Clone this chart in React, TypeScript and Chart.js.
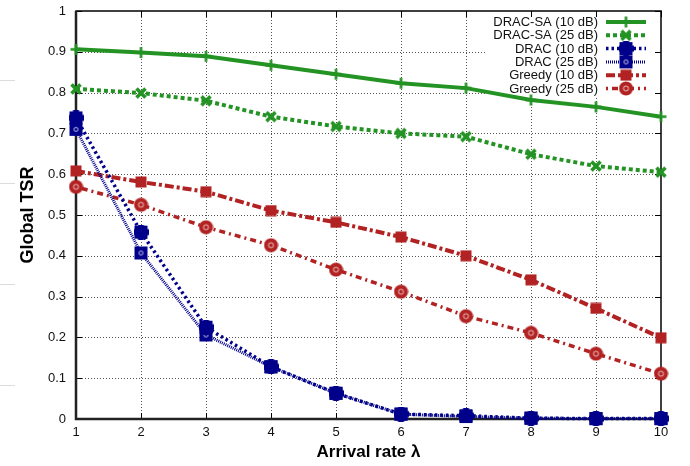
import React, { useEffect, useRef } from "react";
import { Chart, registerables } from "chart.js";

Chart.register(...registerables);

const categories = [1, 2, 3, 4, 5, 6, 7, 8, 9, 10];
const dracSa10 = [0.906, 0.898, 0.889, 0.867, 0.845, 0.823, 0.811, 0.782, 0.765, 0.741];
const dracSa25 = [0.809, 0.799, 0.78, 0.741, 0.717, 0.7, 0.692, 0.649, 0.62, 0.605];
const drac10 = [0.738, 0.458, 0.225, 0.128, 0.063, 0.012, 0.008, 0.002, 0.001, 0.001];
const drac25 = [0.71, 0.407, 0.206, 0.128, 0.063, 0.012, 0.006, 0.002, 0.001, 0.001];
const greedy10 = [0.608, 0.581, 0.557, 0.511, 0.482, 0.446, 0.4, 0.341, 0.271, 0.199];
const greedy25 = [0.569, 0.525, 0.47, 0.426, 0.366, 0.312, 0.252, 0.211, 0.16, 0.111];
const seriesLabels = [
  "DRAC-SA (10 dB)",
  "DRAC-SA (25 dB)",
  "DRAC (10 dB)",
  "DRAC (25 dB)",
  "Greedy (10 dB)",
  "Greedy (25 dB)",
];
const yTicks = [0, 0.1, 0.2, 0.3, 0.4, 0.5, 0.6, 0.7, 0.8, 0.9, 1];

const GREEN = "#239323";
const NAVY = "#00008b";
const RED = "#b22222";
const FONT = "'Liberation Sans', Arial, Helvetica, sans-serif";

function mk(size: number, draw: (c: CanvasRenderingContext2D, s: number) => void) {
  const cv = document.createElement("canvas");
  cv.width = size;
  cv.height = size;
  const c = cv.getContext("2d")!;
  draw(c, size);
  return cv;
}

export default function App() {
  const ref = useRef<HTMLCanvasElement | null>(null);

  useEffect(() => {
    document.body.style.margin = "0";
    const plus = mk(13, (c, s) => {
      c.strokeStyle = GREEN;
      c.lineWidth = 2.6;
      c.beginPath();
      c.moveTo(1, s / 2);
      c.lineTo(s - 1, s / 2);
      c.moveTo(s / 2, 1);
      c.lineTo(s / 2, s - 1);
      c.stroke();
    });
    const xmark = mk(14, (c, s) => {
      c.strokeStyle = GREEN;
      c.lineWidth = 3.6;
      c.beginPath();
      c.moveTo(2.5, 2.5);
      c.lineTo(s - 2.5, s - 2.5);
      c.moveTo(s - 2.5, 2.5);
      c.lineTo(2.5, s - 2.5);
      c.stroke();
    });
    const star = mk(15, (c, s) => {
      c.fillStyle = NAVY;
      c.fillRect(2.5, 2.5, s - 5, s - 5);
      c.fillRect(s / 2 - 3, 0, 6, s);
      c.fillRect(0, s / 2 - 3, s, 6);
      c.fillRect(1, 1, 4, 4);
      c.fillRect(s - 5, 1, 4, 4);
      c.fillRect(1, s - 5, 4, 4);
      c.fillRect(s - 5, s - 5, 4, 4);
    });
    const sqo = mk(15, (c, s) => {
      c.fillStyle = NAVY;
      c.fillRect(1, 1, s - 2, s - 2);
      c.strokeStyle = "#c8c8e8";
      c.lineWidth = 1;
      c.beginPath();
      c.arc(s / 2, s / 2, 2, 0, Math.PI * 2);
      c.stroke();
    });
    const sq = mk(12, (c, s) => {
      c.fillStyle = RED;
      c.fillRect(0.5, 0.5, s - 1, s - 1);
    });
    const circ = mk(15, (c, s) => {
      c.fillStyle = RED;
      c.beginPath();
      c.arc(s / 2, s / 2, s / 2 - 0.5, 0, Math.PI * 2);
      c.fill();
      c.strokeStyle = "#f0c8c8";
      c.lineWidth = 1;
      c.beginPath();
      c.arc(s / 2, s / 2, 2.5, 0, Math.PI * 2);
      c.stroke();
    });

    const specs = [
      { data: dracSa10, color: GREEN, dash: [] as number[], width: 4, pt: plus },
      { data: dracSa25, color: GREEN, dash: [4, 3], width: 4, pt: xmark },
      { data: drac10, color: NAVY, dash: [2.5, 3], width: 3.5, pt: star },
      { data: drac25, color: NAVY, dash: [1, 1], width: 3, pt: sqo },
      { data: greedy10, color: RED, dash: [9, 3, 3, 3], width: 4, pt: sq },
      { data: greedy25, color: RED, dash: [2, 4, 6, 4], width: 3.5, pt: circ },
    ];

    const datasets = specs.map((s, i) => ({
      label: seriesLabels[i],
      data: categories.map((x, j) => ({ x, y: s.data[j] })),
      borderColor: s.color,
      backgroundColor: s.color,
      borderWidth: s.width,
      borderDash: s.dash,
      pointStyle: s.pt as any,
      pointRadius: 7,
      tension: 0,
      clip: false as any,
    }));

    const legendGeom = (a: any) => {
      const textRight = a.right - 63;
      return {
        textRight,
        x0: a.right - 55,
        x1: a.right - 15,
        top: a.top + 11,
        step: 13.3,
        boxLeft: textRight - 112,
      };
    };

    const framePlugin = {
      id: "frame",
      beforeDatasetsDraw(chart: any) {
        const { ctx, chartArea: a, scales } = chart;
        const xs = scales.x;
        const ys = scales.y;
        ctx.save();
        // grid
        ctx.strokeStyle = "#555";
        ctx.lineWidth = 1;
        ctx.setLineDash([1, 2]);
        ctx.beginPath();
        categories.forEach((v) => {
          if (v === categories[0] || v === categories[categories.length - 1]) return;
          const px = Math.round(xs.getPixelForValue(v)) + 0.5;
          ctx.moveTo(px, a.top);
          ctx.lineTo(px, a.bottom);
        });
        yTicks.forEach((v) => {
          if (v === yTicks[0] || v === yTicks[yTicks.length - 1]) return;
          const py = Math.round(ys.getPixelForValue(v)) + 0.5;
          ctx.moveTo(a.left, py);
          ctx.lineTo(a.right, py);
        });
        ctx.stroke();
        ctx.setLineDash([]);
        // legend background
        const g = legendGeom(a);
        ctx.fillStyle = "#fff";
        ctx.fillRect(g.boxLeft, a.top + 2, a.right - 6 - g.boxLeft, g.step * 6 + 4);
        // ticks
        ctx.strokeStyle = "#000";
        ctx.lineWidth = 1;
        ctx.beginPath();
        categories.forEach((v) => {
          const px = Math.round(xs.getPixelForValue(v)) + 0.5;
          ctx.moveTo(px, a.bottom);
          ctx.lineTo(px, a.bottom - 6);
          ctx.moveTo(px, a.top);
          ctx.lineTo(px, a.top + 6);
        });
        yTicks.forEach((v) => {
          const py = Math.round(ys.getPixelForValue(v)) + 0.5;
          ctx.moveTo(a.left, py);
          ctx.lineTo(a.left + 6, py);
          ctx.moveTo(a.right, py);
          ctx.lineTo(a.right - 6, py);
        });
        ctx.stroke();
        // frame
        ctx.lineWidth = 1.5;
        ctx.strokeStyle = "#000";
        ctx.strokeRect(a.left, a.top, a.right - a.left, a.bottom - a.top);
        ctx.lineWidth = 2.5;
        ctx.strokeStyle = "#222";
        ctx.beginPath();
        ctx.moveTo(a.left, a.top);
        ctx.lineTo(a.left, a.bottom);
        ctx.lineTo(a.right, a.bottom);
        ctx.stroke();
        // faint margin artifacts
        ctx.strokeStyle = "#dcdcdc";
        ctx.lineWidth = 1;
        ctx.beginPath();
        [0.831, 0.579, 0.332, 0.083].forEach((v) => {
          const py = Math.round(ys.getPixelForValue(v)) + 0.5;
          ctx.moveTo(0, py);
          ctx.lineTo(15, py);
        });
        ctx.stroke();
        ctx.restore();
      },
      afterDatasetsDraw(chart: any) {
        const { ctx, chartArea: a } = chart;
        const g = legendGeom(a);
        ctx.save();
        ctx.font = `13px ${FONT}`;
        ctx.textAlign = "right";
        ctx.textBaseline = "middle";
        specs.forEach((s, i) => {
          const y = g.top + i * g.step;
          ctx.fillStyle = "#111";
          ctx.fillText(seriesLabels[i], g.textRight, y + 0.5);
          ctx.strokeStyle = s.color;
          ctx.lineWidth = s.width;
          ctx.setLineDash(s.dash);
          ctx.beginPath();
          ctx.moveTo(g.x0, y);
          ctx.lineTo(g.x1, y);
          ctx.stroke();
          ctx.setLineDash([]);
          const cx = (g.x0 + g.x1) / 2;
          ctx.drawImage(s.pt, cx - s.pt.width / 2, y - s.pt.height / 2);
        });
        ctx.restore();
      },
    };

    const chart = new Chart(ref.current!, {
      type: "line",
      data: { datasets: datasets as any },
      options: {
        animation: false,
        responsive: false,
        maintainAspectRatio: false,
        layout: { padding: { left: 0, top: 6, right: 29, bottom: 0 } },
        plugins: { legend: { display: false }, tooltip: { enabled: false } },
        scales: {
          x: {
            type: "linear",
            min: 1,
            max: 10,
            afterFit: (s: any) => {
              s.height = 47;
              s.paddingLeft = 0;
              s.paddingRight = 0;
            },
            afterBuildTicks: (s: any) => {
              s.ticks = categories.map((v) => ({ value: v }));
            },
            grid: { display: false, drawTicks: false },
            border: { display: false },
            ticks: {
              padding: 6,
              color: "#111",
              font: { family: FONT, size: 13 },
              maxRotation: 0,
              autoSkip: false,
              callback: (v: any) => String(v),
            },
            title: {
              display: true,
              text: "Arrival rate λ",
              color: "#000",
              font: { family: FONT, size: 17, weight: "bold" },
              padding: { top: 0, bottom: 3 },
            },
          },
          y: {
            type: "linear",
            min: 0,
            max: 1,
            afterFit: (s: any) => {
              s.width = 76;
              s.paddingTop = 0;
              s.paddingBottom = 0;
            },
            afterBuildTicks: (s: any) => {
              s.ticks = yTicks.map((v) => ({ value: v }));
            },
            grid: { display: false, drawTicks: false },
            border: { display: false },
            ticks: {
              padding: 10,
              color: "#111",
              font: { family: FONT, size: 13 },
              autoSkip: false,
              callback: (v: any) => String(Math.round(v * 10) / 10),
            },
            title: {
              display: true,
              text: "Global TSR",
              color: "#000",
              font: { family: FONT, size: 18, weight: "bold" },
              padding: { top: 17, bottom: 0 },
            },
          },
        },
      },
      plugins: [framePlugin],
    });
    return () => chart.destroy();
  }, []);

  return (
    <div style={{ width: 690, height: 466 }}>
      <canvas ref={ref} width={690} height={466} style={{ width: 690, height: 466, display: "block" }} />
    </div>
  );
}
